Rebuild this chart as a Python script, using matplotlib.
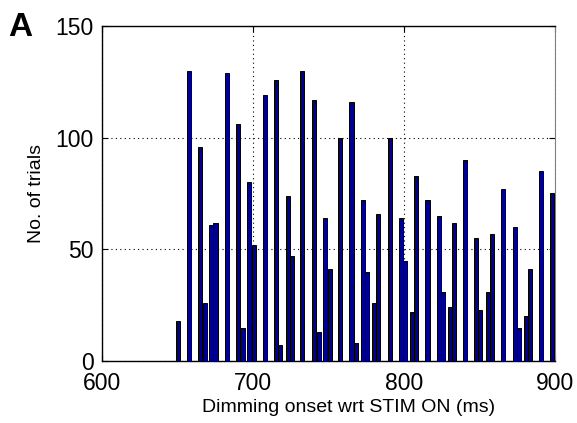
import matplotlib
matplotlib.use('Agg')
import matplotlib.pyplot as plt

# histogram of dimming onset times, one bar per occupied bin
bin_left = [648.6, 655.9, 663.2, 666.5, 670.7, 673.6, 681.1, 688.6, 691.5, 696.1,
            699.0, 706.5, 714.0, 716.6, 721.5, 724.2, 731.2, 738.8, 742.1, 746.1,
            749.4, 756.4, 763.8, 766.8, 771.4, 774.1, 778.9, 781.6, 789.3, 796.8,
            799.5, 804.1, 806.6, 814.1, 821.6, 824.5, 829.1, 831.8, 839.2, 846.5,
            849.2, 854.3, 857.0, 864.0, 872.0, 874.6, 879.7, 882.0, 889.4, 896.9]
n_trials = [18, 130, 96, 26, 61, 62, 129, 106, 15, 80,
            52, 119, 126, 7, 74, 47, 130, 117, 13, 64,
            41, 100, 116, 8, 72, 40, 26, 66, 100, 64,
            45, 22, 83, 72, 65, 31, 24, 62, 90, 55,
            23, 31, 57, 77, 60, 15, 20, 41, 85, 75]
bin_w = 2.75

x_ticks = [600, 700, 800, 900]
y_ticks = [0, 50, 100, 150]

plt.rcParams['font.family'] = ['Liberation Sans', 'DejaVu Sans']

fig = plt.figure(figsize = (5.77, 4.23), dpi = 100)
ax = fig.add_axes([102.3 / 577, 1 - 361 / 423, 452.7 / 577, 335 / 423])

ax.bar(bin_left, n_trials, width = bin_w, align = 'edge',
       color = '#000090', edgecolor = 'black', linewidth = 0.7, zorder = 3)

ax.set_xlim(600, 900)
ax.set_ylim(0, 150)
ax.set_xticks(x_ticks)
ax.set_yticks(y_ticks)
ax.tick_params(direction = 'in', length = 4, width = 0.8, labelsize = 16.5,
               top = True, right = True)
ax.tick_params(axis = 'x', pad = 8)
ax.tick_params(axis = 'y', pad = 6)

ax.grid(True, linestyle = (0, (1, 3)), color = 'black', linewidth = 0.8, zorder = 1)
for side in ['left', 'bottom', 'top']:
    ax.spines[side].set_linewidth(1.0)
ax.spines['right'].set_color('#808080')

ax.set_xlabel('Dimming onset wrt STIM ON (ms)', fontsize = 14)
ax.set_ylabel('No. of trials', fontsize = 14)
ax.xaxis.set_label_coords(0.544, -0.113)
ax.xaxis.label.set_verticalalignment('top')
ax.yaxis.set_label_coords(-0.126, 0.5)

fig.text(8 / 577, 1 - 36 / 423, 'A', fontsize = 24, fontweight = 'bold', va = 'baseline')

fig.savefig('out.png', dpi = 100)
